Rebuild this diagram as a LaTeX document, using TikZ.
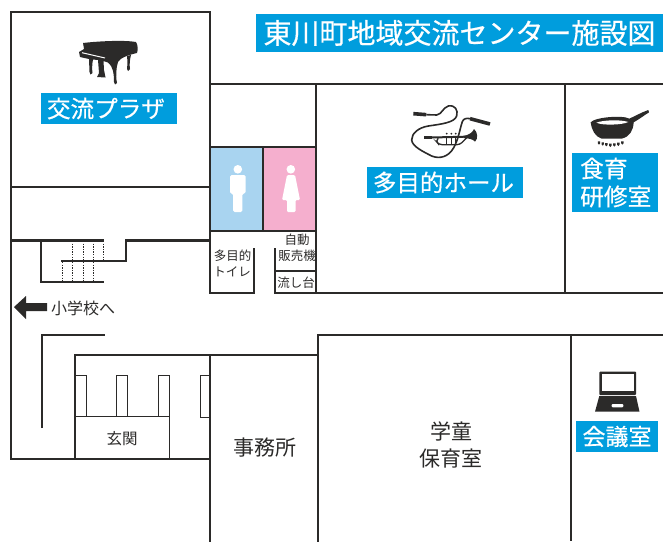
\documentclass[tikz,border=0pt]{standalone}
\usepackage{fontspec}
\setmainfont{Noto Sans CJK JP}
\newfontfamily\labelfont[FakeBold=0.5]{Noto Sans CJK JP}
\definecolor{wall}{HTML}{2B2A29}
\definecolor{lab}{HTML}{009DDD}
\definecolor{mblue}{HTML}{A9D4F0}
\definecolor{wpink}{HTML}{F5AFCE}
\tikzset{
  thick wall/.style={draw=wall,line width=2.7pt,line cap=rect,line join=miter},
  thin wall/.style={draw=wall,line width=1.2pt,line cap=butt},
  hair wall/.style={draw=wall,line width=1pt},
  stair/.style={draw=wall,line width=0.9pt,dash pattern=on 1.3pt off 1.3pt},
  tag/.style={fill=lab,text=white,inner sep=0pt,align=center},
  txt/.style={text=wall,inner sep=0pt,align=center},
  zoomed/.style={x=0.33333pt,y=-0.33333pt},
}
\newcommand{\jfs}[1]{\fontsize{#1}{#1}\selectfont}
\begin{document}
\begin{tikzpicture}[x=1pt,y=-1pt]
\useasboundingbox (0,0) rectangle (663,541);
% toilets
\fill[mblue] (210,147) rectangle (263,231);
\fill[wpink] (263,147) rectangle (316,231);
% man
\fill[white] (237.8,169.3) circle (4.3);
\fill[white,rounded corners=1.5pt] (230,175) -- (245.7,175) -- (245.7,193.5) -- (242.4,193.5) -- (242.4,212) -- (233.2,212) -- (233.2,193.5) -- (230,193.5) -- cycle;
% woman
\fill[white] (290.8,169.3) circle (4.3);
\fill[white,rounded corners=1.2pt] (287,175) -- (295,175) -- (300,200) -- (295.5,200) -- (295.5,212) -- (287,212) -- (287,200) -- (282,200) -- cycle;
% thick walls
\draw[thick wall] (210,187) -- (210,12) -- (11,12) -- (11,459) -- (210,459);
\draw[thick wall] (11,187) -- (210,187);
\draw[thick wall] (210,84) -- (663,84);
\draw[thick wall] (210,187) -- (210,293) -- (254,293) -- (254,249);
\draw[thick wall] (275,249) -- (275,293) -- (663,293);
\draw[thick wall] (316,84) -- (316,293);
\draw[thick wall] (565,84) -- (565,293);
\draw[thick wall] (11,240.5) -- (103,240.5);
\draw[thick wall] (41,240.5) -- (41,282) -- (103,282);
\draw[thick wall] (62,261) -- (126,261) -- (126,240.5) -- (210,240.5);
\draw[thick wall] (75,459) -- (75,355) -- (318,355);
\draw[thick wall] (210,355) -- (210,541);
\draw[thick wall] (318,541) -- (318,335) -- (663,335);
\draw[thin wall,line width=1.8pt] (571,335) -- (571,541);
\draw[thin wall,line width=1.8pt] (210,147) -- (316,147);
\draw[thin wall,line width=1.8pt] (210,231) -- (316,231);
\draw[thin wall,line width=1.8pt] (263,147) -- (263,231);
\draw[thin wall] (275,271) -- (316,271);
% lobby lines
\draw[thin wall] (42,428) -- (42,335) -- (105,335);
\draw[hair wall] (76,375) -- (86,375) -- (86,416);
\draw[hair wall] (116,416) -- (116,375) -- (127,375) -- (127,416);
\draw[hair wall] (158,416) -- (158,375) -- (169,375) -- (169,459);
\draw[hair wall] (209,375) -- (200,375) -- (200,417) -- (209,417);
\draw[hair wall] (76,416) -- (169,416);
% stairs
\foreach \x in {72,83,93,103} \draw[stair] (\x,241) -- (\x,260);
\foreach \x in {62,72,83,93} \draw[stair] (\x,262) -- (\x,281);
% arrow
\fill[wall] (14,307) -- (26,296) -- (26,303) -- (47,303) -- (47,311) -- (26,311) -- (26,319) -- cycle;
% piano
\fill[wall] (83,43) .. controls (100,41) and (125,40) .. (136,42) .. controls (138,45) and (138,50) .. (137,53)
  .. controls (128,55) and (120,58) .. (118,62) .. controls (116,68) and (116,76) .. (116.5,80) -- (117,83) -- (115,84.5) -- (114,82)
  .. controls (114,74) and (113,66) .. (108,62.5) -- (103.5,61) -- (104,70) -- (105.5,77.5) -- (97,77) -- (99,73) -- (98,60)
  -- (93,59.5) .. controls (92,64) and (92,70) .. (92.5,73) -- (90.5,74.5) -- (89.5,72) -- (89,59) -- (80,57) -- (79,52) -- (84,49) -- cycle;
\fill[wall] (127,56) -- (131,55) .. controls (129.5,60) and (129.5,66) .. (130,69) -- (128,71) -- (127,69) .. controls (127.5,65) and (127.5,60) .. (127,56) -- cycle;
\draw[white,line width=1pt] (82,52.7) -- (105,58);
% trumpet and cord
\begin{scope}[shift={(405,100)},zoomed]
\draw[wall,line width=3.6pt] (25,41) -- (64,44);
\draw[wall,line width=1.6pt,line join=round] (64,44) -- (95,45) .. controls (112,42) and (112,24) .. (130,18) .. controls (150,14) and (160,30) .. (155,48) .. controls (148,68) and (110,72) .. (70,78) .. controls (40,83) and (20,100) .. (20,120) .. controls (22,140) and (55,155) .. (80,168) .. controls (105,178) and (130,170) .. (145,145) .. controls (160,120) and (165,85) .. (172,65) .. controls (176,55) and (185,54) .. (195,56);
\draw[wall,line width=3.6pt] (195,56) -- (255,72);
\draw[wall,line width=2pt] (60,113) -- (185,110);
\draw[wall,line width=3pt] (58,113) -- (80,113);
\draw[wall,line width=1.3pt,rounded corners=3pt] (100,115) -- (92,122) -- (102,134) -- (165,134) -- (186,112);
\fill[wall] (176,108) .. controls (192,105) and (203,97) .. (207,87) .. controls (218,95) and (220,117) .. (210,125) .. controls (205,118) and (192,115) .. (176,114) -- cycle;
\foreach \x in {125,139,152} {\draw[wall,line width=1.6pt] (\x,112) -- (\x,134); \fill[wall] (\x,101) circle (1pt);}
\end{scope}
% frying pan
\begin{scope}[shift={(585,105)},zoomed]
\fill[wall] (17,52) .. controls (30,36) and (115,30) .. (133,41) .. controls (150,33) and (170,22) .. (190,15) -- (192,22) .. controls (175,33) and (160,44) .. (146,52) .. controls (145,75) and (135,95) .. (110,101) -- (50,101) .. controls (30,95) and (20,75) .. (17,52) -- cycle;
\fill[white] (34,53) .. controls (55,45) and (105,43) .. (130,51) .. controls (112,60) and (52,62) .. (34,53) -- cycle;
\foreach \x/\y in {42/109,53/112,64/114,76/116,88/115,100/113,112/109}
  \fill[wall] (\x-3.5,\y) -- (\x+3.5,\y) -- (\x+3.5,\y+6) -- (\x,\y+10) -- (\x-3.5,\y+6) -- cycle;
\end{scope}
% laptop
\fill[wall,rounded corners=0.8pt] (599.3,371.7) rectangle (636,395);
\fill[white] (601.7,374) rectangle (633.5,391);
\fill[wall] (599.3,396) -- (636,396) -- (639.5,411.7) -- (595,411.7) -- cycle;
\fill[white,rounded corners=1pt] (611.7,404) rectangle (623.3,407.3);
% labels
\node[tag,minimum width=407pt,minimum height=38pt,anchor=north west] (title) at (256,14) {};
\node[text=white,inner sep=0pt] (titlet) at (459.5,33) {\labelfont\jfs{28}東川町地域交流センター施設図};
\node[tag,minimum width=136pt,minimum height=31pt] (plaza) at (109,108.5) {};
\node[text=white,inner sep=0pt] (plazat) at (106,108.5) {\labelfont\jfs{23.6}交流プラザ};
\node[tag,minimum width=156pt,minimum height=31pt] (hall) at (445,182.5) {};
\node[text=white,inner sep=0pt] (hallt) at (443.5,182.5) {\labelfont\jfs{23.5}多目的ホール};
\node[tag,minimum width=86pt,minimum height=59pt] (cook) at (615,182.5) {};
\node[text=white,inner sep=0pt,anchor=west] (cook1) at (580,168.5) {\labelfont\jfs{23.7}食育};
\node[text=white,inner sep=0pt,anchor=west] (cook2) at (580,196.5) {\labelfont\jfs{23.7}研修室};
\node[tag,minimum width=82pt,minimum height=31pt] (conf) at (617,436.5) {\labelfont\jfs{23}会議室};
\node[txt] (office) at (264.5,448) {\jfs{21}事務所};
\node[txt] (kids1) at (451,431) {\jfs{21}学童};
\node[txt] (kids2) at (451,458) {\jfs{21}保育室};
\node[txt] (genkan) at (122,439) {\jfs{15.5}玄関};
\node[txt,anchor=west] (school) at (51,308) {\jfs{16}小学校へ};
\node[txt] (t1) at (232.5,256) {\jfs{12.5}多目的};
\node[txt] (t2) at (232,272) {\jfs{12.5}トイレ};
\node[txt] (v1) at (297,240) {\jfs{12.5}自動};
\node[txt] (v2) at (297,256) {\jfs{12.5}販売機};
\node[txt] (s1) at (296,283) {\jfs{12.5}流し台};
\end{tikzpicture}
\end{document}
